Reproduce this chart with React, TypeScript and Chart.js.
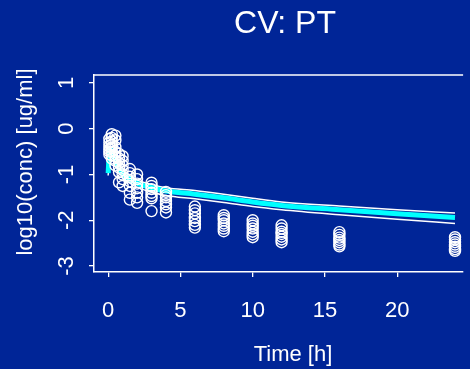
import React, { useEffect, useRef } from "react";
import { Chart, registerables } from "chart.js";

Chart.register(...registerables);

// ---- data ----
const obsTimes = [0.083, 0.25, 0.5, 0.75, 1, 1.5, 2, 3, 4, 6, 8, 10, 12, 16, 24];
const obsValues: number[][] = [
  [-0.22, -0.3, -0.38, -0.45, -0.5, -0.56],
  [-0.12, -0.2, -0.28, -0.35, -0.42, -0.5, -0.58, -0.65],
  [-0.15, -0.25, -0.4, -0.5, -0.6, -0.7, -0.8],
  [-0.55, -0.65, -0.75, -0.85, -0.95, -1.17],
  [-0.6, -0.7, -0.8, -0.9, -1.0, -1.1, -1.25],
  [-0.88, -0.97, -1.05, -1.15, -1.25, -1.4, -1.55],
  [-1.0, -1.1, -1.2, -1.3, -1.4, -1.5, -1.62],
  [-1.18, -1.25, -1.32, -1.4, -1.47, -1.52, -1.8],
  [-1.38, -1.45, -1.5, -1.58, -1.65, -1.72, -1.83],
  [-1.7, -1.78, -1.85, -1.95, -2.02, -2.1, -2.16],
  [-1.89, -1.95, -2.0, -2.07, -2.12, -2.18, -2.24],
  [-2.0, -2.07, -2.12, -2.18, -2.25, -2.31, -2.37],
  [-2.11, -2.18, -2.25, -2.3, -2.36, -2.42, -2.48],
  [-2.26, -2.32, -2.38, -2.43, -2.48, -2.53, -2.57],
  [-2.37, -2.42, -2.48, -2.53, -2.58, -2.63, -2.67],
];

const predTimes = [0, 0.1, 0.25, 0.5, 0.75, 1, 1.5, 2, 3, 4, 6, 8, 10, 12, 16, 20, 24];
const predMean = [-0.97, -0.45, -0.5, -0.7, -0.87, -0.98, -1.1, -1.19, -1.29, -1.36, -1.43, -1.51, -1.6, -1.675, -1.77, -1.86, -1.94];
const predUpper = [-0.93, -0.4, -0.44, -0.64, -0.8, -0.91, -1.03, -1.12, -1.22, -1.29, -1.35, -1.43, -1.52, -1.6, -1.69, -1.77, -1.84];
const predLower = [-1.02, -0.5, -0.56, -0.77, -0.95, -1.06, -1.19, -1.28, -1.38, -1.46, -1.53, -1.61, -1.7, -1.77, -1.88, -1.98, -2.07];

const xTickValues = [0, 5, 10, 15, 20];
const yTickValues = [1, 0, -1, -2, -3];

const mainTitle = "CV: PT";
const xTitle = "Time [h]";
const yTitle = "log10(conc) [ug/ml]";

// ---- style ----
const BG = "#002597";
const FG = "#ffffff";
const CYAN = "#00ffff";
const FONT = '"Liberation Sans", Arial, Helvetica, sans-serif';

const textPlugin = {
  id: "rtext",
  beforeDraw(chart: any) {
    const ctx = chart.ctx;
    ctx.save();
    ctx.fillStyle = BG;
    ctx.fillRect(0, 0, chart.width, chart.height);
    ctx.restore();
  },
  afterDraw(chart: any) {
    const ctx = chart.ctx;
    const area = chart.chartArea;
    const ys = chart.scales.y;
    ctx.save();
    // top box line
    ctx.strokeStyle = FG;
    ctx.lineWidth = 1.5;
    ctx.beginPath();
    ctx.moveTo(area.left, area.top);
    ctx.lineTo(area.right, area.top);
    ctx.stroke();

    ctx.fillStyle = FG;
    // main title
    ctx.font = `32px ${FONT}`;
    ctx.textAlign = "center";
    ctx.textBaseline = "alphabetic";
    ctx.fillText(mainTitle, 285, 33);

    // x title
    ctx.font = `22px ${FONT}`;
    ctx.fillText(xTitle, 293, 361);

    // y tick labels (rotated)
    for (const t of ys.ticks) {
      const py = ys.getPixelForValue(t.value);
      ctx.save();
      ctx.translate(73, py);
      ctx.rotate(-Math.PI / 2);
      ctx.textAlign = "center";
      ctx.textBaseline = "alphabetic";
      ctx.fillText(String(t.value), 0, 0);
      ctx.restore();
    }

    // y title
    ctx.save();
    ctx.translate(32, 162);
    ctx.rotate(-Math.PI / 2);
    ctx.textAlign = "center";
    ctx.textBaseline = "alphabetic";
    ctx.fillText(yTitle, 0, 0);
    ctx.restore();

    ctx.restore();
  },
};

export default function App() {
  const ref = useRef<HTMLCanvasElement | null>(null);

  useEffect(() => {
    document.body.style.margin = "0";
    document.body.style.background = BG;
    const canvas = ref.current;
    if (!canvas) return;

    const obsPoints: { x: number; y: number }[] = [];
    obsTimes.forEach((t, i) => {
      obsValues[i].forEach((v) => obsPoints.push({ x: t, y: v }));
    });
    const toXY = (arr: number[]) => predTimes.map((t, i) => ({ x: t, y: arr[i] }));

    const chart = new Chart(canvas, {
      type: "scatter",
      data: {
        datasets: [
          {
            label: "observed",
            data: obsPoints,
            showLine: false,
            pointStyle: "circle",
            pointRadius: 5.5,
            pointBorderWidth: 1.4,
            pointBorderColor: FG,
            pointBackgroundColor: "rgba(0,0,0,0)",
            borderColor: FG,
            backgroundColor: "rgba(0,0,0,0)",
            order: 0,
          },
          {
            label: "mean",
            data: toXY(predMean),
            showLine: true,
            pointRadius: 0,
            borderColor: CYAN,
            borderWidth: 5,
            cubicInterpolationMode: "monotone",
            order: 1,
          },
          {
            label: "upper",
            data: toXY(predUpper),
            showLine: true,
            pointRadius: 0,
            borderColor: FG,
            borderWidth: 1.5,
            cubicInterpolationMode: "monotone",
            order: 2,
          },
          {
            label: "lower",
            data: toXY(predLower),
            showLine: true,
            pointRadius: 0,
            borderColor: FG,
            borderWidth: 1.5,
            cubicInterpolationMode: "monotone",
            order: 3,
          },
        ],
      } as any,
      options: {
        animation: false,
        responsive: false,
        events: [],
        layout: { padding: { left: 0, top: 75, right: 0, bottom: 0 } },
        plugins: {
          legend: { display: false },
          title: { display: false },
          tooltip: { enabled: false },
        },
        scales: {
          x: {
            type: "linear",
            min: -0.98,
            max: 24.56,
            afterBuildTicks: (s: any) => {
              s.ticks = xTickValues.map((v) => ({ value: v }));
            },
            afterFit: (s: any) => {
              s.height = 97;
              s.paddingLeft = 0;
              s.paddingRight = 0;
            },
            grid: {
              drawOnChartArea: false,
              drawTicks: true,
              tickLength: 5,
              color: FG,
              lineWidth: 1.3,
            },
            border: { display: true, color: FG, width: 1.5 },
            ticks: {
              color: FG,
              font: { family: FONT, size: 22 },
              padding: 21,
              maxRotation: 0,
              autoSkip: false,
              callback: (v: any) => String(v),
            },
          },
          y: {
            type: "linear",
            min: -3.131,
            max: 1.175,
            afterBuildTicks: (s: any) => {
              s.ticks = yTickValues.map((v) => ({ value: v }));
            },
            afterFit: (s: any) => {
              s.width = 94;
            },
            grid: {
              drawOnChartArea: false,
              drawTicks: true,
              tickLength: 5,
              color: FG,
              lineWidth: 1.3,
            },
            border: { display: true, color: FG, width: 1.5 },
            ticks: { display: false },
          },
        },
      } as any,
      plugins: [textPlugin],
    });

    return () => chart.destroy();
  }, []);

  return (
    <canvas
      ref={ref}
      width={470}
      height={369}
      style={{ display: "block", width: 470, height: 369 }}
    />
  );
}
